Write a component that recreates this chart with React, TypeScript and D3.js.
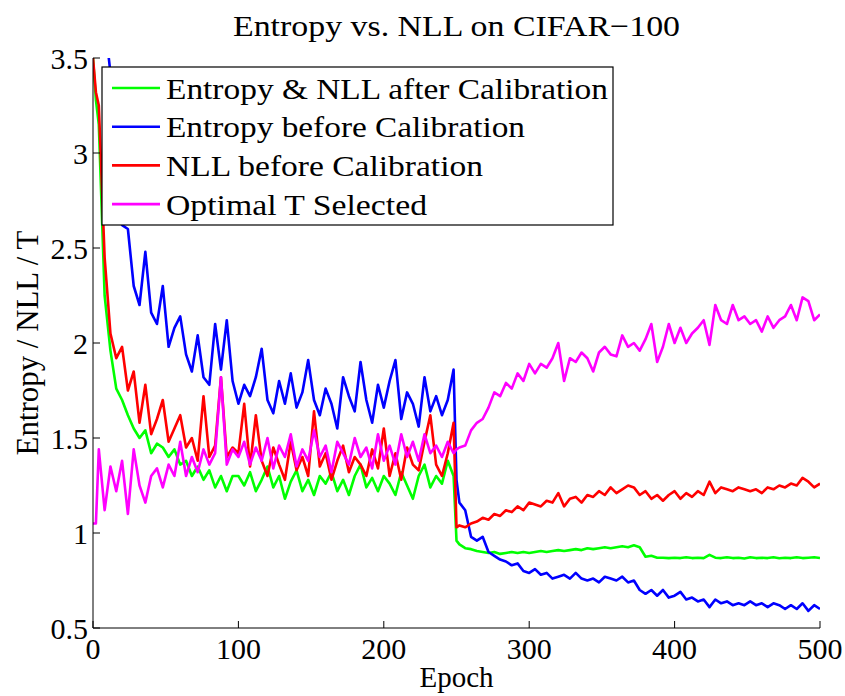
import * as d3 from 'd3'

const width = 845
const height = 696
const margin = { top: 58, right: 25, bottom: 68, left: 93 }
const innerWidth = width - margin.left - margin.right
const innerHeight = height - margin.top - margin.bottom

const epochs = [0, 2, ...d3.range(4, 249, 4), 250, ...d3.range(252, 501, 4)]

const afterCalib = [
  3.5, 3.28, 3.15, 2.25, 1.96, 1.76, 1.7, 1.62, 1.55, 1.5, 1.54, 1.42, 1.47, 1.45, 1.4, 1.44, 1.36, 1.38, 1.3, 1.35, 1.28, 1.33, 1.24, 1.3, 1.22, 1.3,
  1.3, 1.25, 1.32, 1.22, 1.28, 1.35, 1.24, 1.3, 1.18, 1.27, 1.33, 1.22, 1.28, 1.2, 1.3, 1.26, 1.32, 1.22, 1.28, 1.2, 1.3, 1.36, 1.24, 1.29,
  1.22, 1.3, 1.26, 1.2, 1.32, 1.25, 1.18, 1.3, 1.36, 1.24, 1.3, 1.26, 1.38, 1.3,
  0.96,
  0.94, 0.92, 0.915, 0.905, 0.9, 0.895, 0.9, 0.89, 0.895, 0.9, 0.895, 0.9, 0.895, 0.9, 0.905, 0.9, 0.905, 0.91, 0.905, 0.91, 0.915, 0.91,
  0.92, 0.915, 0.92, 0.925, 0.92, 0.925, 0.93, 0.925, 0.935, 0.925, 0.875, 0.88, 0.87, 0.87, 0.868, 0.87, 0.868, 0.872, 0.868, 0.87, 0.868,
  0.885, 0.87, 0.868, 0.872, 0.868, 0.87, 0.866, 0.872, 0.868, 0.87, 0.868, 0.872, 0.867, 0.87, 0.868, 0.872, 0.868, 0.87, 0.872, 0.868, 0.87,
]

const entropyBefore = [
  4.2, 4.1, 3.95, 3.7, 3.42, 2.95, 2.62, 2.6, 2.3, 2.2, 2.48, 2.16, 2.1, 2.3, 1.98, 2.08, 2.14, 1.94, 1.85, 2.04, 1.82, 1.78, 2.1, 1.86, 2.12, 1.8,
  1.68, 1.78, 1.72, 1.82, 1.97, 1.7, 1.63, 1.8, 1.68, 1.84, 1.66, 1.74, 1.91, 1.7, 1.62, 1.76, 1.68, 1.55, 1.82, 1.72, 1.64, 1.9, 1.7, 1.58,
  1.78, 1.66, 1.8, 1.91, 1.6, 1.74, 1.68, 1.56, 1.82, 1.64, 1.72, 1.62, 1.7, 1.86,
  1.28,
  1.16, 1.12, 0.98, 0.96, 0.98, 0.9, 0.88, 0.86, 0.85, 0.83, 0.84, 0.8, 0.79, 0.81, 0.78, 0.79, 0.76, 0.77, 0.78, 0.76, 0.79, 0.76, 0.75,
  0.76, 0.74, 0.77, 0.76, 0.75, 0.77, 0.74, 0.75, 0.7, 0.68, 0.7, 0.67, 0.7, 0.66, 0.67, 0.69, 0.65, 0.66, 0.64, 0.65, 0.61, 0.65, 0.63,
  0.64, 0.62, 0.63, 0.62, 0.64, 0.62, 0.63, 0.61, 0.63, 0.62, 0.6, 0.62, 0.6, 0.63, 0.59, 0.62, 0.6,
]

const nllBefore = [
  3.5, 3.32, 3.25, 2.45, 2.05, 1.92, 1.98, 1.75, 1.85, 1.58, 1.78, 1.52, 1.6, 1.7, 1.48, 1.55, 1.62, 1.45, 1.5, 1.38, 1.72, 1.4, 1.46, 1.82, 1.4, 1.45,
  1.42, 1.68, 1.35, 1.62, 1.38, 1.3, 1.45, 1.36, 1.28, 1.48, 1.33, 1.4, 1.3, 1.64, 1.35, 1.42, 1.28, 1.38, 1.46, 1.32, 1.4, 1.36, 1.3, 1.44,
  1.34, 1.55, 1.3, 1.42, 1.28, 1.45, 1.36, 1.33, 1.48, 1.62, 1.36, 1.3, 1.42, 1.58,
  1.03,
  1.04, 1.03, 1.05, 1.06, 1.08, 1.07, 1.1, 1.09, 1.12, 1.11, 1.14, 1.12, 1.16, 1.15, 1.14, 1.17, 1.16, 1.21, 1.14, 1.18, 1.19, 1.16, 1.2,
  1.19, 1.22, 1.2, 1.24, 1.21, 1.23, 1.25, 1.24, 1.2, 1.22, 1.18, 1.2, 1.17, 1.2, 1.22, 1.18, 1.21, 1.19, 1.22, 1.2, 1.27, 1.21, 1.24,
  1.23, 1.22, 1.24, 1.23, 1.22, 1.23, 1.21, 1.24, 1.23, 1.25, 1.24, 1.26, 1.25, 1.29, 1.27, 1.24, 1.26,
]

const optimalT = [
  1.05, 1.05, 1.44, 1.12, 1.35, 1.22, 1.38, 1.1, 1.44, 1.25, 1.16, 1.3, 1.34, 1.24, 1.36, 1.3, 1.48, 1.3, 1.4, 1.32, 1.44, 1.36, 1.42, 1.82, 1.36, 1.44,
  1.4, 1.48, 1.36, 1.45, 1.38, 1.5, 1.34, 1.46, 1.4, 1.52, 1.35, 1.44, 1.38, 1.54, 1.4, 1.46, 1.32, 1.48, 1.42, 1.36, 1.5, 1.4, 1.45, 1.34,
  1.52, 1.38, 1.46, 1.36, 1.52, 1.4, 1.48, 1.38, 1.52, 1.42, 1.46, 1.4, 1.48, 1.42,
  1.44,
  1.45, 1.46, 1.54, 1.58, 1.6, 1.66, 1.74, 1.72, 1.79, 1.76, 1.84, 1.8, 1.89, 1.84, 1.89, 1.87, 1.92, 2.0, 1.8, 1.92, 1.9, 1.95, 1.92,
  1.85, 1.95, 1.98, 1.94, 1.93, 2.04, 1.98, 2.0, 1.96, 2.02, 2.1, 1.9, 1.98, 2.1, 2.0, 2.08, 2.0, 2.05, 2.08, 2.12, 1.99, 2.2, 2.12,
  2.1, 2.2, 2.12, 2.14, 2.1, 2.12, 2.06, 2.14, 2.08, 2.12, 2.14, 2.2, 2.12, 2.24, 2.22, 2.12, 2.15,
]

const series = [
  { name: 'Entropy & NLL after Calibration', color: '#00ff00', values: afterCalib, textWidth: 442 },
  { name: 'Entropy before Calibration', color: '#0000ff', values: entropyBefore, textWidth: 359 },
  { name: 'NLL before Calibration', color: '#ff0000', values: nllBefore, textWidth: 317 },
  { name: 'Optimal T Selected', color: '#ff00ff', values: optimalT, textWidth: 261 },
]

const xTicks = [0, 100, 200, 300, 400, 500]
const yTicks = [0.5, 1, 1.5, 2, 2.5, 3, 3.5]

const font = '"Liberation Serif", "DejaVu Serif", "Times New Roman", serif'

const App = () => {
  const xScale = d3.scaleLinear().domain([0, 500]).range([0, innerWidth])
  const yScale = d3.scaleLinear().domain([0.5, 3.5]).range([innerHeight, 0])

  const line = d3
    .line<number>()
    .x((d, i) => xScale(epochs[i]))
    .y((d) => yScale(d))

  return (
    <svg
      width={width}
      height={height}
      style={{ position: 'absolute', left: 0, top: 0, background: '#fff', fontFamily: font }}
    >
      <defs>
        <clipPath id="plot-clip">
          <rect x={0} y={0} width={innerWidth} height={innerHeight} />
        </clipPath>
      </defs>
      <text
        x={margin.left + innerWidth / 2}
        y={36}
        textAnchor="middle"
        fontSize={30}
        textLength={447}
        lengthAdjust="spacingAndGlyphs"
      >
        Entropy vs. NLL on CIFAR−100
      </text>
      <g transform={`translate(${margin.left},${margin.top})`}>
        <g clipPath="url(#plot-clip)">
          {series.map((s) => (
            <path
              key={s.name}
              d={line(s.values) ?? ''}
              fill="none"
              stroke={s.color}
              strokeWidth={2.6}
              strokeLinejoin="round"
            />
          ))}
        </g>

        {/* axes */}
        <line x1={0} x2={innerWidth} y1={innerHeight} y2={innerHeight} stroke="#000" />
        <line x1={0} x2={0} y1={0} y2={innerHeight} stroke="#000" />
        {xTicks.map((t) => (
          <g key={t} transform={`translate(${xScale(t)},${innerHeight})`}>
            <line y1={0} y2={-7} stroke="#000" />
            <text y={31} textAnchor="middle" fontSize={30}>
              {t}
            </text>
          </g>
        ))}
        {yTicks.map((t) => (
          <g key={t} transform={`translate(0,${yScale(t)})`}>
            <line x1={0} x2={7} stroke="#000" />
            <text x={-5} dy="0.35em" textAnchor="end" fontSize={30}>
              {t}
            </text>
          </g>
        ))}

        {/* legend */}
        <g transform="translate(9,9)">
          <rect x={0} y={0} width={511} height={158} fill="#fff" stroke="#000" strokeWidth={1.2} />
          {series.map((s, i) => (
            <g key={s.name} transform={`translate(0,${21 + i * 38.7})`}>
              <line x1={10} x2={58} stroke={s.color} strokeWidth={2.6} />
              <text x={64} dy="0.35em" fontSize={30} textLength={s.textWidth} lengthAdjust="spacingAndGlyphs">
                {s.name}
              </text>
            </g>
          ))}
        </g>
      </g>
      <text x={margin.left + innerWidth / 2} y={687} textAnchor="middle" fontSize={29}>
        Epoch
      </text>
      <text
        transform={`translate(38,${margin.top + innerHeight / 2}) rotate(-90)`}
        textAnchor="middle"
        fontSize={31}
        textLength={225}
        lengthAdjust="spacingAndGlyphs"
      >
        Entropy / NLL / T
      </text>
    </svg>
  )
}

export default App
